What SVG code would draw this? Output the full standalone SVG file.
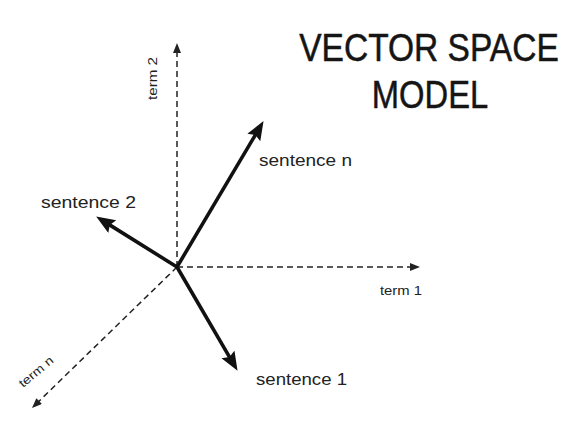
<svg xmlns="http://www.w3.org/2000/svg" width="577" height="436" viewBox="0 0 577 436">
  <style>
    .title { font-family: "Liberation Sans", Arial, sans-serif; font-size: 39px; fill: #151515; stroke: #151515; stroke-width: 0.5; }
    .label { font-family: "Liberation Sans", Arial, sans-serif; font-size: 16.5px; fill: #222; }
    .axislabel { font-family: "Liberation Sans", Arial, sans-serif; font-size: 12px; fill: #222; }
    .vec { stroke: #111; stroke-width: 3.6; fill: none; marker-end: url(#bigArrow); }
    .axis { stroke: #222; stroke-width: 1.5; stroke-dasharray: 6 4; fill: none; marker-end: url(#smallArrow); }
  </style>
  <defs>
    <marker id="bigArrow" markerUnits="userSpaceOnUse" markerWidth="21" markerHeight="17" refX="6" refY="7.5" orient="auto">
      <path d="M0,0 L19,7.5 L0,15 L3,7.5 z" fill="#111"/>
    </marker>
    <marker id="smallArrow" markerUnits="userSpaceOnUse" markerWidth="12" markerHeight="10" refX="4" refY="4" orient="auto">
      <path d="M0,0 L10,4 L0,8 z" fill="#222"/>
    </marker>
  </defs>
  <rect width="577" height="436" fill="#ffffff"/>

  <g id="title">
    <text class="title" transform="translate(429,61) scale(0.86,1)" text-anchor="middle">VECTOR SPACE</text>
    <text class="title" transform="translate(430,108) scale(0.84,1)" text-anchor="middle">MODEL</text>
  </g>

  <g id="connectors">
    <line class="axis" x1="177" y1="267" x2="414" y2="267"/>
    <line class="axis" x1="177" y1="267" x2="177" y2="49"/>
    <line class="axis" x1="177" y1="267" x2="36.3" y2="403.8"/>
    <line class="vec" x1="177" y1="267" x2="256.9" y2="132.3"/>
    <line class="vec" x1="177" y1="267" x2="107.2" y2="223.4"/>
    <line class="vec" x1="177" y1="267" x2="231.0" y2="359.6"/>
  </g>

  <g id="term1">
    <text class="axislabel" x="380" y="295" textLength="42" lengthAdjust="spacingAndGlyphs">term 1</text>
  </g>
  <g id="term2">
    <text class="axislabel" transform="translate(157,100) rotate(-90)" x="0" y="0" textLength="43" lengthAdjust="spacingAndGlyphs">term 2</text>
  </g>
  <g id="termn">
    <text class="axislabel" transform="translate(23,388) rotate(-40)" x="0" y="0" textLength="41" lengthAdjust="spacingAndGlyphs">term n</text>
  </g>
  <g id="sentence-n">
    <text class="label" x="259" y="166" textLength="93" lengthAdjust="spacingAndGlyphs">sentence n</text>
  </g>
  <g id="sentence-2">
    <text class="label" x="41" y="208" textLength="95" lengthAdjust="spacingAndGlyphs">sentence 2</text>
  </g>
  <g id="sentence-1">
    <text class="label" x="256" y="385" textLength="91" lengthAdjust="spacingAndGlyphs">sentence 1</text>
  </g>
</svg>
